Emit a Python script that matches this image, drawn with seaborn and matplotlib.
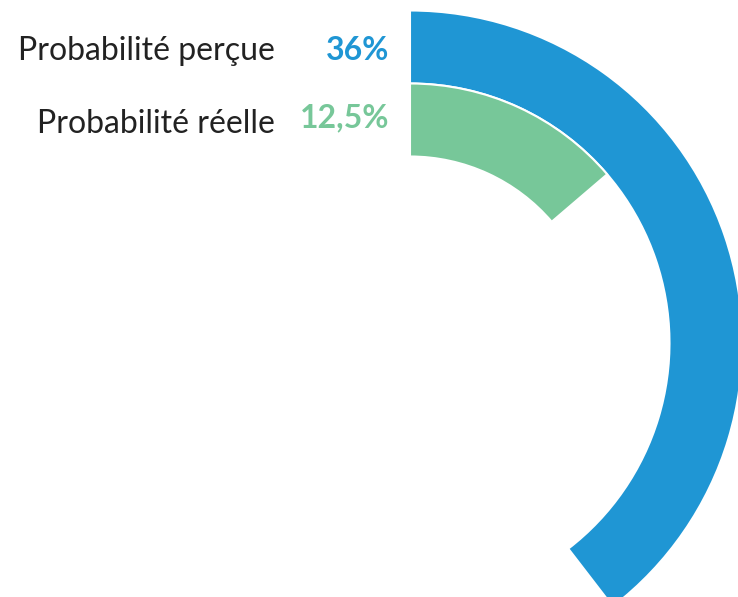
import numpy as np
import pandas as pd
import matplotlib
matplotlib.use("Agg")
import matplotlib.pyplot as plt
import seaborn as sns

# Données
categories = ["Probabilité perçue", "Probabilité réelle"]
valeurs = [36.0, 12.5]
etiquettes = ["36%", "12,5%"]
couleurs = ["#1f96d4", "#77c799"]

# Valeur correspondant à un tour complet de la jauge
TOUR_COMPLET = 91.0
# Rayon (en pixels) du milieu de chaque anneau, extérieur puis intérieur
RAYONS = [296.0, 223.0]
R_MAX = 334.0

sns.set_theme(style="white")
plt.rcParams["font.family"] = ["Lato", "DejaVu Sans"]

W, H, DPI = 738, 597, 100
fig = plt.figure(figsize=(W / DPI, H / DPI), dpi=DPI)

# Axe polaire centré sur (410, 343) px, rayon R_MAX px
cx, cy = 410.0, H - 343.0
ax = fig.add_axes([(cx - R_MAX) / W, (cy - R_MAX) / H, 2 * R_MAX / W, 2 * R_MAX / H],
                  projection="polar")
ax.set_theta_zero_location("N")
ax.set_theta_direction(-1)

df = pd.DataFrame({
    "categorie": categories,
    "angle": [v / TOUR_COMPLET * 2 * np.pi for v in valeurs],
    "rayon": RAYONS,
})

sns.barplot(data=df, x="angle", y="rayon", hue="categorie", orient="y",
            native_scale=True, palette=dict(zip(categories, couleurs)),
            saturation=1, width=1.0, dodge=False, legend=False, errorbar=None,
            edgecolor="white", linewidth=1.5, ax=ax)

ax.set_ylim(0, R_MAX)
ax.set_xlim(0, 2 * np.pi)
ax.set_theta_zero_location("N")
ax.set_theta_direction(-1)
ax.set_axis_off()
ax.patch.set_alpha(0)

# Étiquettes à gauche du départ des anneaux (lignes de base en px)
base_noms = [60, 133]
base_valeurs = [60, 127]
for cat, lab, col, yn, yv in zip(categories, etiquettes, couleurs, base_noms, base_valeurs):
    fig.text(275 / W, 1 - yn / H, cat, ha="right", va="baseline",
             fontsize=23, color="#222222")
    fig.text(389 / W, 1 - yv / H, lab, ha="right", va="baseline",
             fontsize=23, fontweight="bold", color=col)

fig.savefig("out.png", dpi=DPI)
